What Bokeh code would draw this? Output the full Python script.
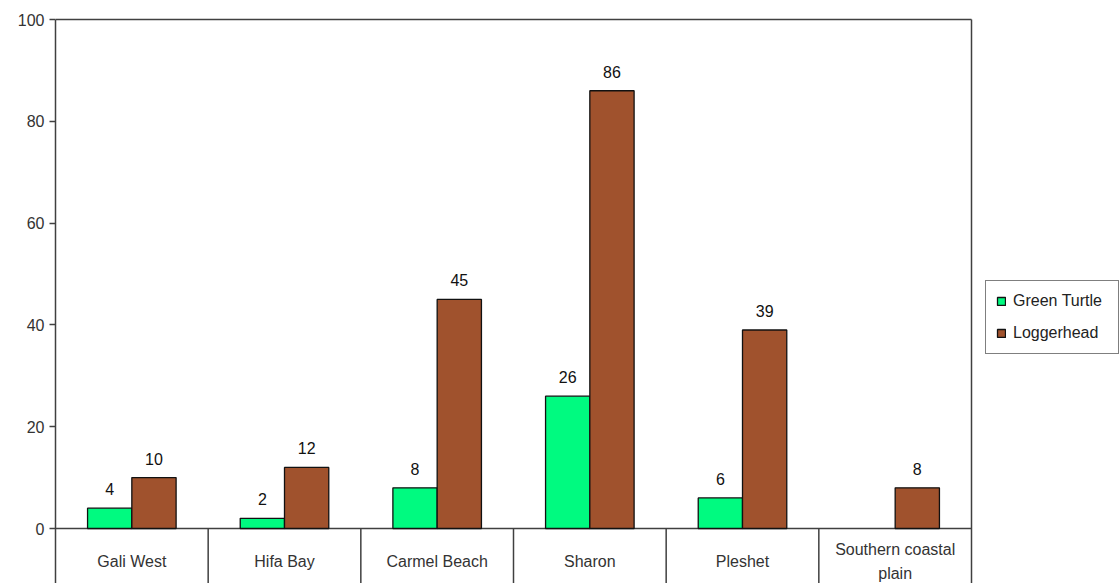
from bokeh.plotting import figure
from bokeh.models import Range1d, FixedTicker, Legend, LegendItem, ColumnDataSource
from bokeh.core.properties import value
from bokeh.embed import file_html
from bokeh.resources import INLINE

# Nesting counts per beach region
categories = ["Gali West", "Hifa Bay", "Carmel Beach", "Sharon", "Pleshet", "Southern coastal\nplain"]
green_turtle = [4, 2, 8, 26, 6, None]
loggerhead = [10, 12, 45, 86, 39, 8]
y_ticks = [0, 20, 40, 60, 80, 100]

FONT = "Liberation Sans"
GREEN = "#00FA80"
BROWN = "#A0522D"
LINE = "#404040"

n = len(categories)
centers = [i + 0.5 for i in range(n)]
bar_w = 0.29
off = bar_w / 2

# the frame runs across the whole page so the legend can sit to the right of the boxed area
PX_X = 916 / n            # pixels per category
PX_Y = 509 / 100          # pixels per count
x_end = 1065 / PX_X
y_top = y_ticks[-1] + 2 / PX_Y
y_bottom = -55 / PX_Y

g_src = ColumnDataSource(dict(
    x=[c - off for c, v in zip(centers, green_turtle) if v is not None],
    top=[v for v in green_turtle if v is not None],
    label=[str(v) for v in green_turtle if v is not None],
))
l_src = ColumnDataSource(dict(
    x=[c + off for c in centers],
    top=loggerhead,
    label=[str(v) for v in loggerhead],
))

p = figure(width=1120, height=583, x_range=Range1d(0, x_end), y_range=Range1d(y_bottom, y_top),
           min_border_left=55, min_border_right=0, min_border_top=17, min_border_bottom=0,
           toolbar_location=None, output_backend="svg", x_axis_location=None)
p.grid.visible = False
p.outline_line_color = None
p.background_fill_color = "white"
p.border_fill_color = "white"

# left value axis
ax = p.yaxis[0]
ax.ticker = FixedTicker(ticks=y_ticks)
ax.bounds = (y_bottom, y_ticks[-1])
ax.axis_line_color = LINE
ax.axis_line_width = 1.5
ax.major_tick_line_color = LINE
ax.major_tick_line_width = 1.5
ax.major_tick_out = 6
ax.major_tick_in = 0
ax.minor_tick_line_color = None
ax.major_label_text_font = FONT
ax.major_label_text_font_size = "16px"
ax.major_label_text_color = "#333333"
ax.major_label_standoff = 5

# box edges: top, right, baseline, and the category separators below it
ymax = y_ticks[-1]
p.segment(x0=[0, n, 0], y0=[ymax, ymax, 0], x1=[n, n, n], y1=[ymax, y_bottom - 5, 0],
          line_color=LINE, line_width=1.5)
p.segment(x0=list(range(1, n)), y0=[0] * (n - 1), x1=list(range(1, n)), y1=[y_bottom - 5] * (n - 1),
          line_color=LINE, line_width=1.5)

g = p.vbar(x="x", top="top", width=bar_w, source=g_src, fill_color=GREEN,
           line_color="#111111", line_width=1.3)
l = p.vbar(x="x", top="top", width=bar_w, source=l_src, fill_color=BROWN,
           line_color="#111111", line_width=1.3)

for src in (g_src, l_src):
    p.text(x="x", y="top", text="label", source=src, text_align="center", text_baseline="bottom",
           y_offset=-13, text_font=value(FONT), text_font_size="16px", text_color="#111111")

# category names under the baseline
p.text(x=centers, y=[-6.5] * n, text=categories, text_align="center", text_baseline="middle",
       text_font=value(FONT), text_font_size="16px", text_color="#333333", text_line_height=1.4)

legend = Legend(items=[LegendItem(label="Green Turtle", renderers=[g]),
                       LegendItem(label="Loggerhead", renderers=[l])],
                location=(930, 229), margin=0)
legend.border_line_color = "black"
legend.border_line_width = 1.3
legend.background_fill_color = "white"
legend.label_text_font = FONT
legend.label_text_font_size = "16px"
legend.label_text_color = "#222222"
legend.glyph_width = 10
legend.glyph_height = 10
legend.padding = 10
legend.spacing = 12
legend.label_standoff = 7
legend.label_height = 20
legend.label_width = 95
p.add_layout(legend)

open("out.html", "w").write(file_html(p, INLINE))
